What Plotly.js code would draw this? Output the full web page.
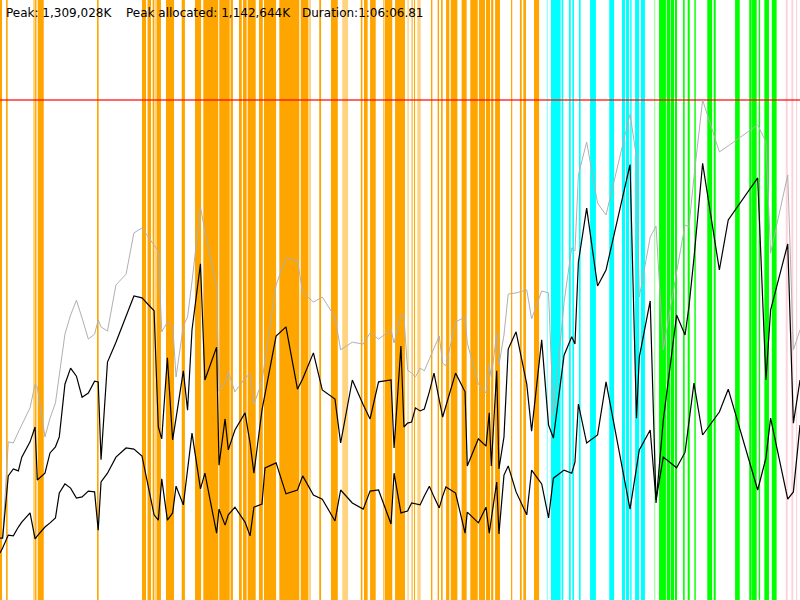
<!DOCTYPE html>
<html><head><meta charset="utf-8">
<script src="https://cdn.plot.ly/plotly-3.0.1.min.js"></script>
<style>html,body{margin:0;padding:0;background:#fff}#chart{width:800px;height:600px}</style>
</head><body><div id="chart"></div>
<script>
// Run summary
const durationSec = 3966.81;          // 1:06:06.81
const peakMB = 1309.028;              // 1,309,028K
const headerLabels = ['Peak: 1,309,028K', 'Peak allocated: 1,142,644K', 'Duration:1:06:06.81'];

// Sample times (seconds since start)
const timeSec = [0,13,41,66,91,108,149,174,185,223,
248,275,294,322,350,379,407,438,469,487,
501,533,575,625,664,704,764,785,802,830,
856,873,909,930,952,994,1016,1074,1086,1116,
1132,1165,1215,1240,1259,1299,1314,1369,1418,1475,
1501,1554,1598,1661,1689,1747,1801,1835,1877,1939,
1954,1988,2003,2021,2041,2060,2083,2104,2129,2152,
2178,2195,2211,2259,2306,2317,2372,2410,2426,2436,
2463,2474,2499,2520,2559,2612,2636,2686,2720,2744,
2797,2835,2851,2868,2909,2963,3005,3124,3156,3170,
3224,3253,3289,3355,3397,3416,3441,3484,3567,3611,
3757,3798,3821,3906,3934,3967];

// Total memory (MB, thousands of K) - gray line
const totalMB = [162,162,414,411,440,458,503,565,558,427,
476,516,594,696,746,785,738,683,696,733,
715,704,825,853,961,974,929,914,702,728,
720,584,717,741,833,1029,966,819,547,568,
597,545,581,592,513,571,628,825,895,888,
806,780,793,741,655,675,670,699,683,707,
673,749,741,602,594,584,607,600,631,660,
691,620,613,728,741,673,565,542,615,584,
699,615,694,801,804,812,736,809,804,484,
780,922,914,1113,1199,1039,1008,1272,1160,793,
950,979,655,859,982,977,1107,1309,1173,1189,
1244,1199,908,1113,655,707];

// Allocated memory (MB) - upper black line
const allocatedMB = [162,162,325,343,338,374,414,453,314,332,
385,401,427,565,607,586,531,542,573,571,
367,623,675,741,796,791,757,453,422,634,
419,476,600,497,707,880,576,662,353,474,
393,445,490,411,332,497,537,691,715,552,
579,647,550,526,411,576,511,474,571,576,
398,665,453,463,466,503,495,500,545,594,
524,479,508,594,545,351,422,403,490,351,
600,343,427,657,702,565,442,681,458,424,
641,689,670,885,1026,822,864,1140,476,636,
783,254,471,746,694,767,895,1143,864,995,
1105,576,759,932,463,576];

// Live memory (MB) - lower black line
const liveMB = [123,136,170,168,191,204,228,160,168,191,
202,215,280,304,293,267,270,285,283,183,
309,332,374,398,395,377,223,209,317,209,
228,298,249,343,437,291,332,175,238,196,
223,243,204,168,243,251,346,359,278,288,
325,275,264,207,288,254,238,285,288,199,
332,228,230,233,254,251,249,272,298,270,
241,272,296,280,175,230,202,243,175,212,
309,173,327,351,283,223,340,304,215,319,
340,332,361,513,411,432,571,238,351,393,
445,262,374,346,387,469,568,432,492,552,
288,372,476,264,283,458];

// Activity phases (seconds) and their kind
const phaseStart = [0,30,164,174,187,481,704,729,734,757,
765,777,823,901,967,1008,1087,1143,1185,1205,
1228,1284,1309,1385,1491,1531,1583,1641,1697,1789,
1805,1835,1901,1909,1959,2020,2041,2053,2069,2137,
2170,2187,2212,2235,2289,2332,2375,2410,2435,2455,
2534,2578,2595,2648,2711,2732,2785,2821,2838,2871,
2926,3021,3084,3104,3125,3149,3178,3244,3268,3306,
3327,3347,3387,3410,3443,3507,3539,3645,3715,3729,
3762,3790,3827,3896,3924,3947];
const phaseEnd = [10,38,174,181,217,489,724,734,749,765,
777,798,863,917,997,1082,1139,1155,1199,1223,
1268,1303,1369,1484,1529,1542,1592,1675,1726,1797,
1823,1863,1906,1945,2008,2027,2046,2058,2086,2144,
2177,2195,2228,2268,2314,2369,2405,2430,2446,2479,
2540,2587,2608,2673,2717,2780,2793,2830,2846,2879,
2955,3045,3099,3119,3132,3169,3198,3249,3302,3324,
3342,3357,3395,3420,3450,3531,3549,3668,3727,3752,
3769,3813,3851,3906,3934,3953];
const phaseKind = ['O','O','L','O','O','O','O','L','O','O',
'L','O','O','O','O','O','O','O','O','O',
'O','O','O','O','O','L','O','O','L','O',
'O','O','O','O','O','L','O','O','L','O',
'O','O','O','O','O','O','O','O','O','O',
'O','O','O','O','LC','C','C','C','C','C',
'C','C','C','C','C','C','C','LG','G','G',
'G','G','G','G','G','G','G','G','G','G',
'G','G','G','P','P','P'];

const kindColor = {O:'#ffa500', L:'#ffd480', C:'#00ffff', LC:'#8cffff', G:'#00ff00', LG:'#8cff8c', P:'#ffd3dc'};

const shapes = phaseStart.map((s, i) => ({
  type: 'rect', xref: 'x', yref: 'paper', x0: s, x1: phaseEnd[i], y0: 0, y1: 1,
  fillcolor: kindColor[phaseKind[i]], line: {width: 0}, layer: 'below'
}));
shapes.push({type: 'line', xref: 'paper', yref: 'y', x0: 0, x1: 1, y0: peakMB, y1: peakMB,
  line: {color: 'rgba(255,0,0,0.6)', width: 2}, layer: 'below'});

const traces = [
  {x: timeSec, y: totalMB, type: 'scatter', mode: 'lines', line: {color: '#b0b0b0', width: 1}, hoverinfo: 'skip'},
  {x: timeSec, y: liveMB, type: 'scatter', mode: 'lines', line: {color: '#000', width: 1.2}, hoverinfo: 'skip'},
  {x: timeSec, y: allocatedMB, type: 'scatter', mode: 'lines', line: {color: '#000', width: 1.2}, hoverinfo: 'skip'}
];

const labelShift = [5, 125, 301];
const annotations = headerLabels.map((t, i) => ({
  text: t, xref: 'paper', yref: 'paper', x: 0, y: 1, xanchor: 'left', yanchor: 'top',
  xshift: labelShift[i], yshift: -5, showarrow: false, borderpad: 0,
  font: {family: 'DejaVu Sans, sans-serif', size: 12, color: '#000'}
}));

const layout = {
  width: 800, height: 600,
  margin: {l: 0, r: 0, t: 0, b: 0, pad: 0},
  paper_bgcolor: '#fff', plot_bgcolor: '#fff',
  showlegend: false,
  xaxis: {range: [0, durationSec], visible: false, showgrid: false, zeroline: false, fixedrange: true},
  yaxis: {range: [0, peakMB * 1.2], visible: false, showgrid: false, zeroline: false, fixedrange: true},
  shapes: shapes,
  annotations: annotations
};

Plotly.newPlot('chart', traces, layout, {staticPlot: true, displayModeBar: false});
</script>
</body></html>
